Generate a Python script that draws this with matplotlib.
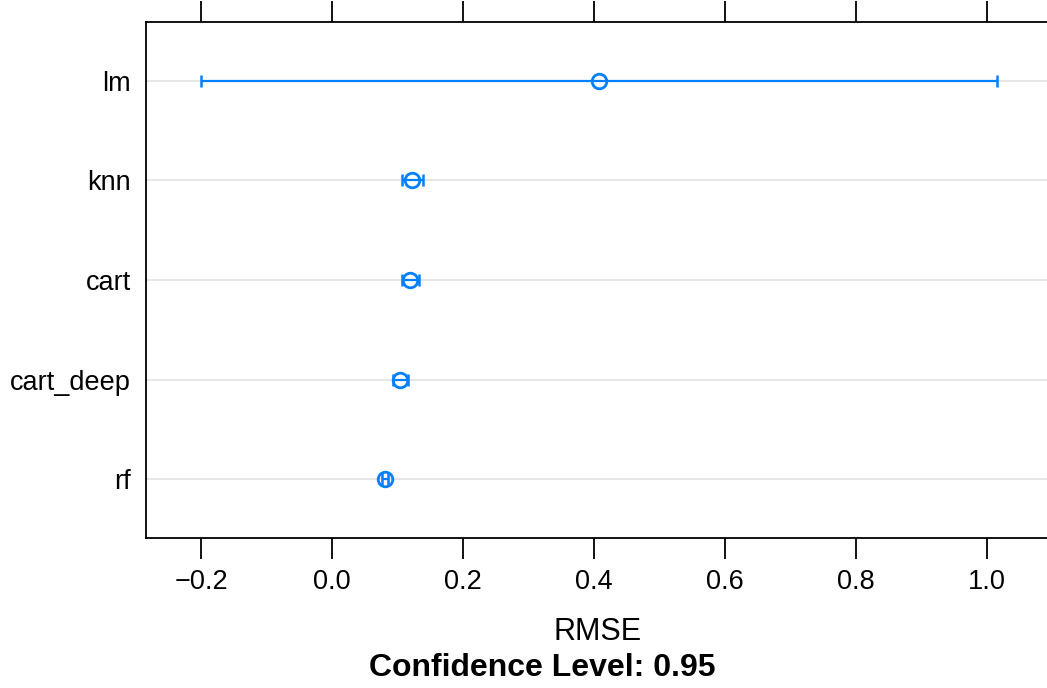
import matplotlib
matplotlib.use("Agg")
import matplotlib.pyplot as plt

plt.rcParams['font.family'] = ['Liberation Sans', 'DejaVu Sans']

# 95% confidence intervals of RMSE per model
models = ["rf", "cart_deep", "cart", "knn", "lm"]
rmse_mean = [0.081, 0.1045, 0.1195, 0.1228, 0.4075]
rmse_lower = [0.0765, 0.0925, 0.107, 0.1065, -0.2005]
rmse_upper = [0.0855, 0.1165, 0.132, 0.139, 1.0155]
xticks = [-0.2, 0.0, 0.2, 0.4, 0.6, 0.8, 1.0]

blue = "#0080FF"

fig = plt.figure(figsize=(10.47, 6.88), dpi=100)
ax = fig.add_axes([146 / 1047, 1 - 538 / 688, 904 / 1047, 516 / 688])

ypos = list(range(1, len(models) + 1))
for y in ypos:
    ax.axhline(y, color="#e6e6e6", lw=1.4, zorder=0)

lower_err = [m - lo for m, lo in zip(rmse_mean, rmse_lower)]
upper_err = [hi - m for m, hi in zip(rmse_mean, rmse_upper)]
ax.errorbar(rmse_mean, ypos, xerr=[lower_err, upper_err], fmt="none",
            ecolor=blue, elinewidth=1.6, capsize=4.5, capthick=1.8, zorder=2)
ax.plot(rmse_mean, ypos, "o", ms=10.5, mfc="none", mec=blue, mew=2.0,
        zorder=3)

ax.set_xlim(-0.284, 1.096)
ax.set_ylim(0.41, 5.59)
ax.set_yticks(ypos)
ax.set_yticklabels(models)
ax.set_xticks(xticks)
ax.set_xticklabels([f"{t:.1f}".replace("-", "\u2212") for t in xticks])

ax.tick_params(axis="x", which="both", top=True, labeltop=False,
               direction="out", length=15, width=1.3, pad=7,
               labelsize=19.5)
ax.tick_params(axis="y", length=0, pad=11, labelsize=19.5)
for sp in ax.spines.values():
    sp.set_linewidth(1.3)

ax.set_xlabel("RMSE", fontsize=22, labelpad=16)
fig.text(542 / 1047, 1 - 668 / 688, "Confidence Level: 0.95",
         fontsize=23, fontweight="bold", ha="center", va="center")

fig.savefig("out.png", dpi=100)
plt.close(fig)
